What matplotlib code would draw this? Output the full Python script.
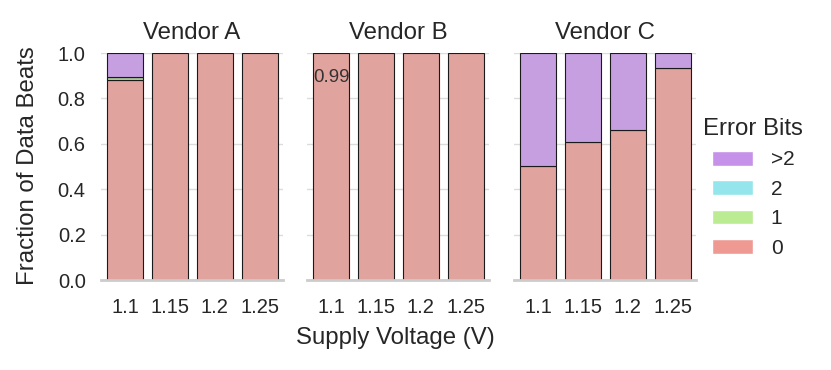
import numpy as np
import matplotlib.pyplot as plt
from matplotlib.patches import Patch

plt.rcParams['font.family'] = ['Liberation Sans', 'DejaVu Sans']

vendors = ['Vendor A', 'Vendor B', 'Vendor C']
voltages = ['1.1', '1.15', '1.2', '1.25']
bit_labels = ['0', '1', '2', '>2']

# fraction of data beats per error-bit count, one list per vendor
bits0 = [[0.881, 1.0, 1.0, 1.0],
         [1.0, 1.0, 1.0, 1.0],
         [0.502, 0.606, 0.659, 0.932]]
bits1 = [[0.012, 0.0, 0.0, 0.0],
         [0.0, 0.0, 0.0, 0.0],
         [0.0, 0.0, 0.0, 0.0]]
bits2 = [[0.002, 0.0, 0.0, 0.0],
         [0.0, 0.0, 0.0, 0.0],
         [0.0, 0.0, 0.0, 0.0]]
bits3 = [[0.105, 0.0, 0.0, 0.0],
         [0.0, 0.0, 0.0, 0.0],
         [0.498, 0.394, 0.341, 0.068]]
note_text = '0.99'

bar_colors = ['#e1a39e', '#b0d39c', '#a2dbdf', '#c59fe0']
legend_colors = ['#ee9a92', '#bbeb93', '#95e6ec', '#c691e8']

fig = plt.figure(figsize=(8.31, 3.70), dpi=100)
lefts = [101, 307, 514]
axes = []
for i, vname in enumerate(vendors):
    ax = fig.add_axes([lefts[i] / 831, 90 / 370, 182 / 831, 227 / 370])
    axes.append(ax)
    x = np.arange(len(voltages))
    bottom = np.zeros(len(voltages))
    for k, vals in enumerate([bits0[i], bits1[i], bits2[i], bits3[i]]):
        vals = np.array(vals)
        mask = vals > 0
        ax.bar(x[mask], vals[mask], width=0.8, bottom=bottom[mask],
               color=bar_colors[k], edgecolor='#1a1a1a', linewidth=0.8, zorder=2)
        bottom = bottom + vals
    ax.set_xlim(-0.54, 3.52)
    ax.set_ylim(0, 1.0)
    ax.set_yticks([0, 0.2, 0.4, 0.6, 0.8, 1.0])
    ax.set_xticks(x)
    ax.set_xticklabels(voltages)
    ax.yaxis.grid(True, color='#dcdcdc', linewidth=1, zorder=0)
    ax.set_axisbelow(True)
    for s in ['top', 'right', 'left']:
        ax.spines[s].set_visible(False)
    ax.spines['bottom'].set_color('#cccccc')
    ax.spines['bottom'].set_linewidth(2)
    ax.tick_params(axis='x', length=0, pad=13, labelsize=14.5, colors='#262626')
    ax.tick_params(axis='y', length=0, pad=11, labelsize=14.5, colors='#262626')
    if i > 0:
        ax.set_yticklabels([])
    ax.set_title(vname, fontsize=17.3, pad=10, color='#262626')

axes[1].text(0, 0.89, note_text, ha='center', va='center', fontsize=13.5, color='#333333')

fig.text(395 / 831, 1 - 338 / 370, 'Supply Voltage (V)', ha='center', va='center',
         fontsize=17.3, color='#262626')
fig.text(28 / 831, 1 - 166 / 370, 'Fraction of Data Beats', ha='center', va='center',
         rotation=90, fontsize=17.3, color='#262626')

handles = [Patch(facecolor=legend_colors[k], edgecolor='white', label=bit_labels[k])
           for k in range(3, -1, -1)]
leg = fig.legend(handles=handles, loc='upper center', bbox_to_anchor=(753 / 831, 1 - 118 / 370),
                 frameon=False, title='Error Bits', fontsize=15, title_fontsize=17.3,
                 handlelength=2.0, handleheight=0.72, labelspacing=0.5, handletextpad=0.85,
                 borderpad=0, borderaxespad=0)
for t in leg.get_texts():
    t.set_color('#262626')
leg.get_title().set_color('#262626')

fig.savefig('out.png', dpi=100)
